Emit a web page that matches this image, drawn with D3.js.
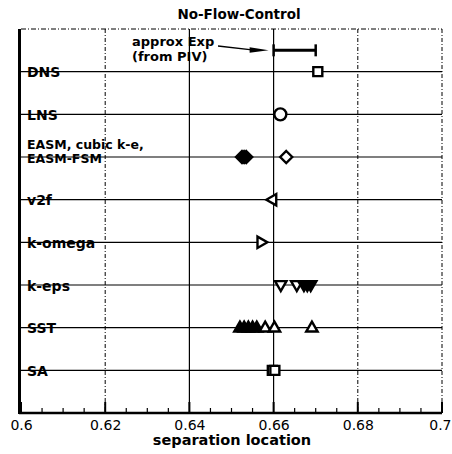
<!DOCTYPE html>
<html><head><meta charset="utf-8">
<script src="https://cdn.jsdelivr.net/npm/d3@7"></script>
<style>body{margin:0;background:#fff}svg{display:block}text{font-family:"DejaVu Sans",sans-serif}</style>
</head><body><svg id="c" width="452" height="454"></svg>
<script>
const models = ["DNS","LNS","EASM, cubic k-e,|EASM-FSM","v2f","k-omega","k-eps","SST","SA"];
const xTicks = [0.6,0.62,0.64,0.66,0.68,0.7];
const expRange = [0.66,0.67];
const dnsVals = [0.6705];
const lnsVals = [0.6616];
const easmFilled = [0.6525,0.653,0.6535];
const easmOpen = [0.663];
const v2fVals = [0.6597];
const komegaVals = [0.6571];
const kepsOpen = [0.6617,0.6655];
const kepsFilled = [0.6672,0.668,0.6688];
const sstFilled = [0.652,0.653,0.654,0.655,0.656];
const sstOpen = [0.658,0.6602,0.6691];
const saVals = [0.6597,0.6603];

const svg = d3.select("#c");
const x = d3.scaleLinear().domain([0.6,0.7]).range([21,442]);
const y = d3.scaleLinear().domain([0,9]).range([29,413]);
const rowY = i => y(i+1);
const BOLD = "DejaVu Sans";

// grid
const g = svg.append("g");
xTicks.slice(1).forEach(t=>{
  const solid = (t===0.64||t===0.66);
  g.append("line").attr("x1",x(t)).attr("x2",x(t)).attr("y1",y(0)).attr("y2",y(9))
   .attr("stroke","#000").attr("stroke-width",solid?1.2:1)
   .attr("stroke-dasharray",solid?null:"4,2,1,2");
});
g.append("line").attr("x1",x(0.6)).attr("x2",x(0.7)).attr("y1",y(0)).attr("y2",y(0))
 .attr("stroke","#000").attr("stroke-dasharray","5,2,1,2");

// labels
models.forEach((m,i)=>{
  const parts = m.split("|");
  const t = svg.append("text").attr("x",27).attr("font-weight","bold").attr("font-size",14)
    .attr("font-family",BOLD).attr("fill","#000");
  if(parts.length===1){
    t.attr("y",rowY(i)+5.5).text(m);
  } else {
    t.attr("font-size",12.5);
    t.append("tspan").attr("x",27).attr("y",rowY(i)-8.5).text(parts[0]);
    t.append("tspan").attr("x",27).attr("y",rowY(i)+6).text(parts[1]);
  }
});

// row lines
models.forEach((m,i)=>{
  svg.append("line").attr("x1",x(0.6)).attr("x2",x(0.7)).attr("y1",rowY(i)).attr("y2",rowY(i))
   .attr("stroke","#000").attr("stroke-width",1.1);
});

// axes
const xAxis = d3.axisBottom(x).tickValues(xTicks).tickSize(0).tickPadding(6).tickFormat(d3.format("~g"));
const ax = svg.append("g").attr("transform",`translate(0,${y(9)+1})`).call(xAxis);
ax.select(".domain").remove();
ax.selectAll("text").attr("font-size",14).attr("font-family","Liberation Sans,Arial,sans-serif").attr("fill","#000");
ax.selectAll(".tick").filter(d=>d===0.7).select("text").attr("text-anchor","end").attr("dx",9);
// ticks inward
const minor = d3.range(0,21).map(i=>0.6+i*0.005);
minor.forEach(t=>{
  const major = xTicks.some(v=>Math.abs(v-t)<1e-6);
  svg.append("line").attr("x1",x(t)).attr("x2",x(t)).attr("y1",y(9)).attr("y2",y(9)-(major?11:5))
   .attr("stroke","#000").attr("stroke-width",major?2:1.2);
});
svg.append("line").attr("x1",19).attr("x2",x(0.7)).attr("y1",y(9)).attr("y2",y(9)).attr("stroke","#000").attr("stroke-width",2.5);
svg.append("line").attr("x1",19.5).attr("x2",19.5).attr("y1",y(0)).attr("y2",y(9)+1).attr("stroke","#000").attr("stroke-width",3);

// title and axis label
svg.append("text").attr("x",239).attr("y",19).attr("text-anchor","middle").attr("font-weight","bold").attr("font-size",13.5).attr("font-family",BOLD).text("No-Flow-Control");
svg.append("text").attr("x",232).attr("y",445).attr("text-anchor","middle").attr("font-weight","bold").attr("font-size",14.5).attr("font-family",BOLD).text("separation location");

// experiment bar
const ey = y(0.5);
svg.append("line").attr("x1",x(expRange[0])).attr("x2",x(expRange[1])).attr("y1",ey).attr("y2",ey).attr("stroke","#000").attr("stroke-width",3);
expRange.forEach(v=>svg.append("line").attr("x1",x(v)).attr("x2",x(v)).attr("y1",ey-6).attr("y2",ey+6).attr("stroke","#000").attr("stroke-width",2.5));
const at = svg.append("text").attr("font-size",13).attr("font-weight","bold").attr("font-family",BOLD);
at.append("tspan").attr("x",132).attr("y",46).text("approx Exp");
at.append("tspan").attr("x",132).attr("y",61).text("(from PIV)");
svg.append("line").attr("x1",218).attr("x2",252).attr("y1",46).attr("y2",ey-0.5).attr("stroke","#000").attr("stroke-width",1.3);
svg.append("path").attr("d",`M${x(expRange[0])-5},${ey} l-19,-3 l0,5.5 z`).attr("fill","#000");

// markers
const tri = s=>`M0,${-s}L${s*0.95},${s*0.65}L${-s*0.95},${s*0.65}Z`;
function draw(vals,row,path,fill,rot){
  svg.append("g").selectAll("path").data(vals).join("path")
    .attr("d",path)
    .attr("transform",d=>`translate(${x(d)},${rowY(row)}) rotate(${rot||0})`)
    .attr("fill",fill?"#000":"#fff").attr("stroke","#000").attr("stroke-width",2.4);
}
draw(dnsVals,0,"M-4.5,-4.5h9v9h-9z",false);
draw(lnsVals,1,"M6,0A6,6 0 1 1 -6,0A6,6 0 1 1 6,0Z",false);
draw(easmFilled,2,"M0,-6L6,0L0,6L-6,0Z",true);
draw(easmOpen,2,"M0,-6L6,0L0,6L-6,0Z",false);
draw(v2fVals,3,tri(6),false,-90);
draw(komegaVals,4,tri(6),false,90);
draw(kepsOpen,5,tri(6),false,180);
draw(kepsFilled,5,tri(6),true,180);
draw(sstFilled,6,tri(6),true,0);
draw(sstOpen,6,tri(6),false,0);
draw(saVals,7,"M-4.5,-4.5h9v9h-9z",false);
</script></body></html>
